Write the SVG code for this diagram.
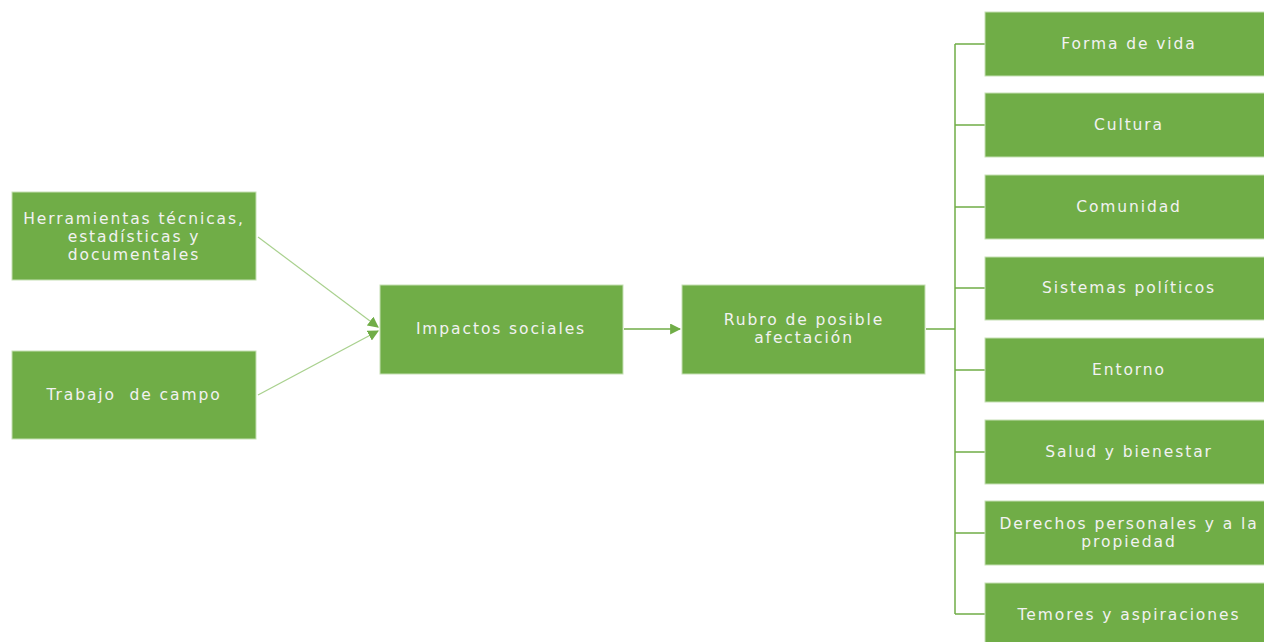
<svg xmlns="http://www.w3.org/2000/svg" width="1264" height="642" viewBox="0 0 1264 642">
<style>
.box{fill:#70ad47;stroke:#c5e0b4;stroke-width:1}
.t{font-family:"DejaVu Sans",sans-serif;font-size:15.5px;letter-spacing:1.9px;fill:#f2f2f2;text-anchor:middle}
.c{fill:none;stroke:#70ad47;stroke-width:1.5}
.cl{fill:none;stroke:#a9d18e;stroke-width:1.2}
</style>
<defs>
<marker id="ah" viewBox="0 0 10 10" refX="9" refY="5" markerWidth="11" markerHeight="11" markerUnits="userSpaceOnUse" orient="auto">
<path d="M0,0 L10,5 L0,10 z" fill="#70ad47"/>
</marker>
</defs>
<rect width="1264" height="642" fill="#ffffff"/>
<g id="connectors">
<line class="cl" x1="258" y1="237" x2="378" y2="327" marker-end="url(#ah)"/>
<line class="cl" x1="258" y1="395" x2="378" y2="331" marker-end="url(#ah)"/>
<line class="c" x1="624" y1="329" x2="680" y2="329" marker-end="url(#ah)"/>
<path class="c" d="M926,329 H955 M955,44 V614 M955,44 H985 M955,125 H985 M955,207 H985 M955,288 H985 M955,370 H985 M955,452 H985 M955,533 H985 M955,614 H985"/>
</g>
<g id="n-herramientas"><rect class="box" x="12" y="192" width="244" height="88"/><text class="t" x="134" y="223.5">Herramientas técnicas,</text><text class="t" x="134" y="241.5">estadísticas y</text><text class="t" x="134" y="259.5">documentales</text></g>
<g id="n-trabajo"><rect class="box" x="12" y="351" width="244" height="88"/><text class="t" x="134" y="400" xml:space="preserve">Trabajo  de campo</text></g>
<g id="n-impactos"><rect class="box" x="380" y="285" width="243" height="89"/><text class="t" x="501" y="334">Impactos sociales</text></g>
<g id="n-rubro"><rect class="box" x="682" y="285" width="243" height="89"/><text class="t" x="804" y="324.5">Rubro de posible</text><text class="t" x="804" y="342.5">afectación</text></g>
<g id="n-forma"><rect class="box" x="985" y="12" width="280" height="64"/><text class="t" x="1129" y="49">Forma de vida</text></g>
<g id="n-cultura"><rect class="box" x="985" y="93" width="280" height="64"/><text class="t" x="1129" y="130">Cultura</text></g>
<g id="n-comunidad"><rect class="box" x="985" y="175" width="280" height="64"/><text class="t" x="1129" y="212">Comunidad</text></g>
<g id="n-sistemas"><rect class="box" x="985" y="257" width="280" height="63"/><text class="t" x="1129" y="293">Sistemas políticos</text></g>
<g id="n-entorno"><rect class="box" x="985" y="338" width="280" height="64"/><text class="t" x="1129" y="375">Entorno</text></g>
<g id="n-salud"><rect class="box" x="985" y="420" width="280" height="64"/><text class="t" x="1129" y="457">Salud y bienestar</text></g>
<g id="n-derechos"><rect class="box" x="985" y="501" width="280" height="64"/><text class="t" x="1129" y="528.5">Derechos personales y a la</text><text class="t" x="1129" y="546.5">propiedad</text></g>
<g id="n-temores"><rect class="box" x="985" y="583" width="280" height="64"/><text class="t" x="1129" y="620">Temores y aspiraciones</text></g>
</svg>
